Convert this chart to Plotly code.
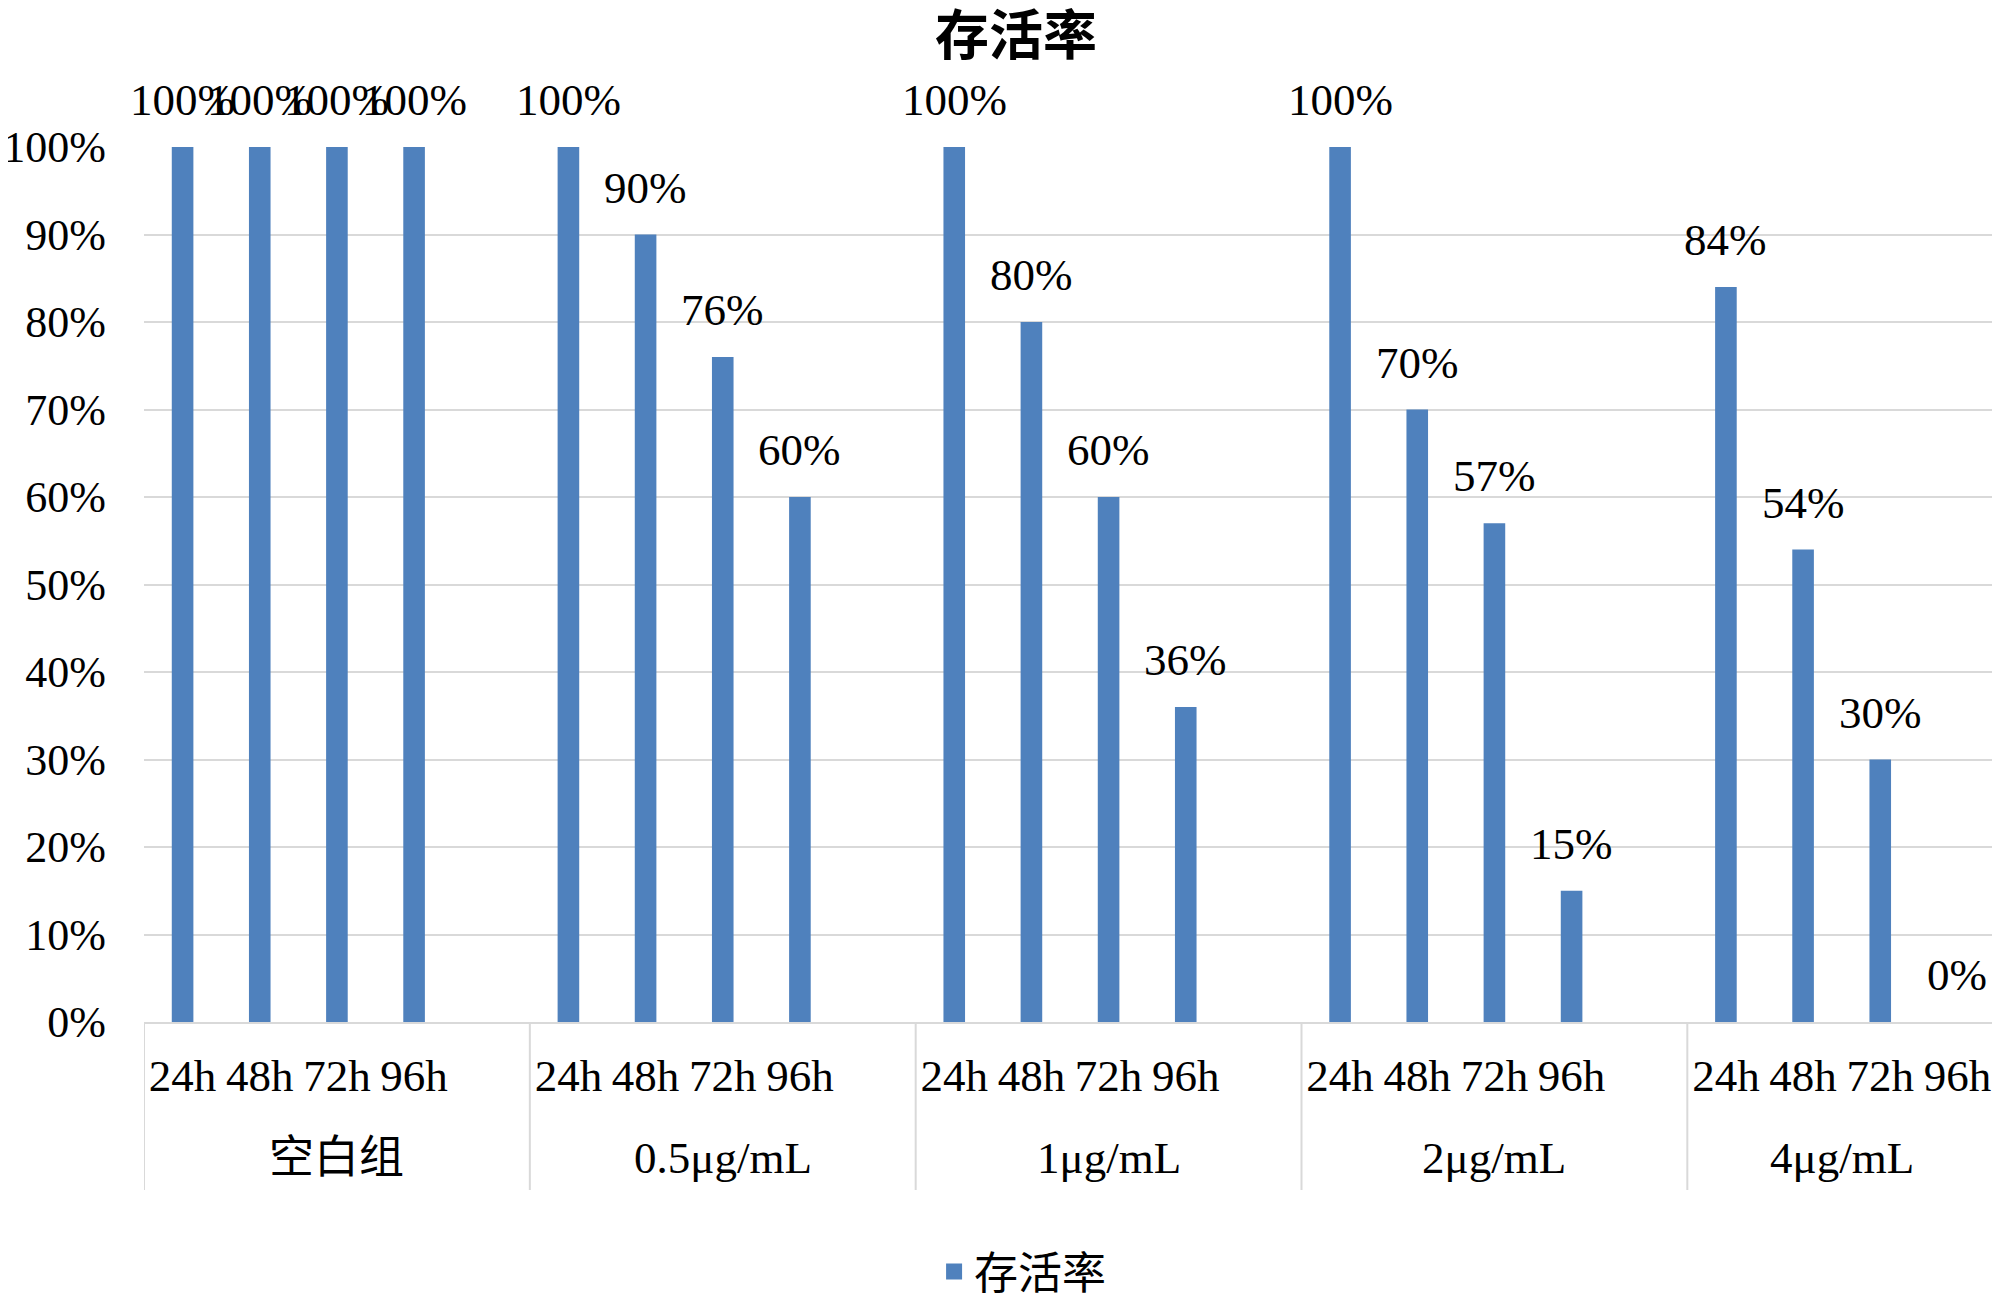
import plotly.graph_objects as go

groups = ["空白组", "0.5μg/mL", "1μg/mL", "2μg/mL", "4μg/mL"]
times = ["24h", "48h", "72h", "96h"]
survival = [
    [1.00, 1.00, 1.00, 1.00],
    [1.00, 0.90, 0.76, 0.60],
    [1.00, 0.80, 0.60, 0.36],
    [1.00, 0.70, 0.57, 0.15],
    [0.84, 0.54, 0.30, 0.00],
]
series_name = "存活率"

FONT = "Liberation Serif, Noto Sans CJK SC, serif"
BLUE = "#4F81BD"
GRID = "#D9D9D9"
FS = 45

# Build Excel-like category slots (a blank slot after each group except last)
cats, ticktext, vals = [], [], []
group_slots = []
for gi, g in enumerate(groups):
    start = len(cats)
    for ti, t in enumerate(times):
        cats.append(f"{g}|{t}")
        ticktext.append(t)
        vals.append(survival[gi][ti])
    if gi < len(groups) - 1:
        cats.append(f"{g}|blank")
        ticktext.append("")
        vals.append(None)
    group_slots.append((start, len(cats) - 1))

fig = go.Figure()
fig.add_trace(go.Bar(
    x=cats, y=vals, name=series_name, showlegend=False,
    marker=dict(color=BLUE, line=dict(width=0)),
    width=0.28,
))
# legend entry with a larger square swatch
fig.add_trace(go.Scatter(
    x=[None], y=[None], mode="markers", name=series_name,
    marker=dict(symbol="square", size=21, color=BLUE),
))

annotations = []
for i, v in enumerate(vals):
    if v is None:
        continue
    annotations.append(dict(
        x=i, y=v, xref="x", yref="y", text=f"{v:.0%}",
        showarrow=False, yanchor="middle", yshift=47,
        font=dict(family=FONT, size=FS, color="black"),
    ))

W, H = 1992, 1291
ML, MR, MT, MB = 136, 4, 139, 277
PLOT_H = H - MT - MB
shapes = []
for gi, (s, e) in enumerate(group_slots):
    annotations.append(dict(
        x=(s + e) / 2, y=-136 / PLOT_H, xref="x", yref="paper", text=groups[gi],
        showarrow=False, yanchor="middle", xanchor="center",
        font=dict(family=FONT, size=FS, color="black"),
    ))
    shapes.append(dict(type="line", xref="x", yref="paper",
                       x0=s - 0.5, x1=s - 0.5, y0=0, y1=-168 / PLOT_H,
                       line=dict(color=GRID, width=2)))
last_end = group_slots[-1][1]
shapes.append(dict(type="line", xref="x", yref="paper",
                   x0=last_end + 0.5, x1=last_end + 0.5, y0=0, y1=-168 / PLOT_H,
                   line=dict(color=GRID, width=2)))

fig.update_layout(
    width=W, height=H,
    paper_bgcolor="white", plot_bgcolor="white",
    margin=dict(l=ML, r=MR, t=MT, b=MB, autoexpand=False),
    title=dict(text="<b>存活率</b>", x=1008 / W, xanchor="center", y=1 - 28 / H, yanchor="middle",
               font=dict(family="Noto Sans CJK SC", size=54, color="black")),
    showlegend=True,
    legend=dict(orientation="h", x=945 / W, xanchor="center", y=-250 / PLOT_H, yanchor="middle",
                font=dict(family="Liberation Serif, Noto Sans CJK SC", size=44, color="black"),
                itemwidth=30),
    annotations=annotations,
    shapes=shapes,
)
fig.update_yaxes(
    range=[0, 1], dtick=0.1, tickformat=".0%",
    showgrid=True, gridcolor=GRID, gridwidth=2,
    zeroline=False, showline=False,
    tickfont=dict(family=FONT, size=44, color="black"),
    ticklabelstandoff=37, automargin=False,
)
fig.update_xaxes(
    type="category", categoryorder="array", categoryarray=cats,
    range=[-0.5, len(cats) - 0.5],
    tickmode="array", tickvals=cats, ticktext=ticktext, tickangle=0,
    showline=True, linecolor=GRID, linewidth=2,
    tickfont=dict(family=FONT, size=FS, color="black"),
    ticklabelstandoff=13, automargin=False,
    showgrid=False,
)

fig.write_html("out.html")
